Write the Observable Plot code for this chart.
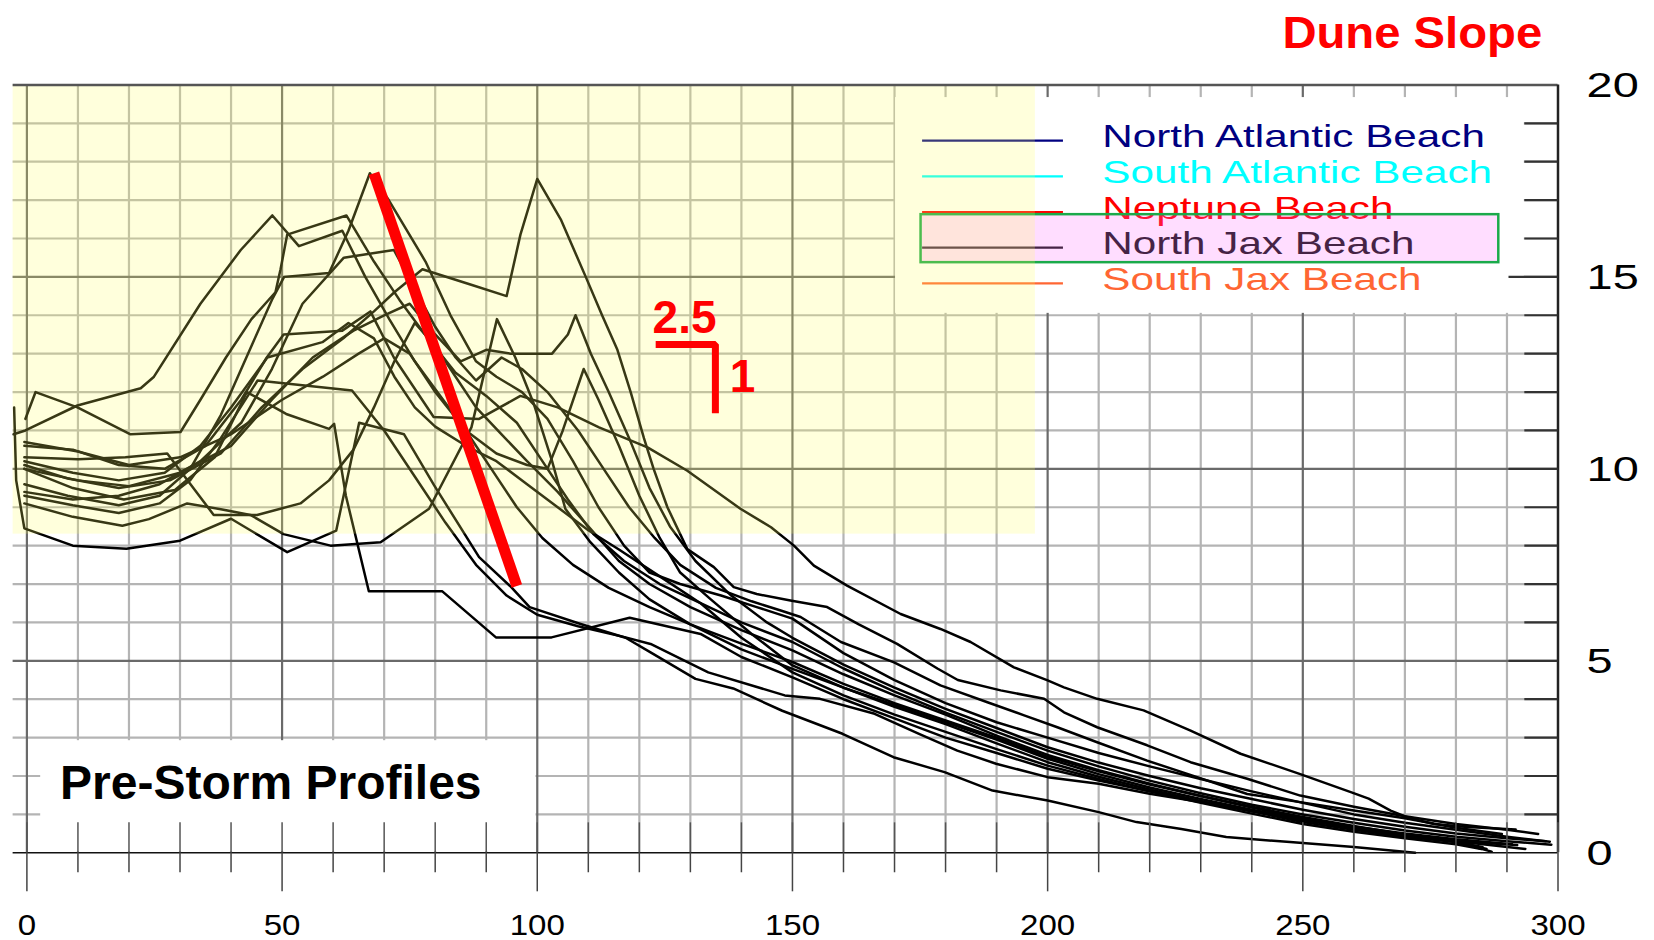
<!DOCTYPE html>
<html><head><meta charset="utf-8">
<script src="https://cdn.jsdelivr.net/npm/d3@7"></script>
<script src="https://cdn.jsdelivr.net/npm/@observablehq/plot@0.6"></script>
<style>html,body{margin:0;padding:0;background:#fff;} #chart{width:1654px;height:940px;overflow:hidden}</style>
</head><body><div id="chart"></div>
<script>
// ---- profile data: [distance, elevation] ----
const profile01 = [[-2.5,11.6],[-2.1,9.7],[-0.5,8.45],[9,8.0],[19.5,7.92],[30,8.13],[40,8.7],[51,7.83],[60.6,8.39],[65.1,11.2],[73.9,10.9],[79.8,9.57],[88.6,7.7],[94.9,6.92],[98.5,6.4],[108.5,5.96],[117.3,5.6],[122.2,5.22],[131,4.53],[138.4,4.28],[148,3.7],[159.8,3.1],[169.8,2.49],[179.8,2.1],[189.2,1.62],[200,1.36],[210,1.06],[217.4,0.8],[226.2,0.62],[235,0.41],[247.5,0.28],[260,0.15],[272,0.0]];
const profile02 = [[-0.5,9.1],[9,8.75],[18.7,8.52],[23.9,8.69],[31.4,9.1],[38,8.95],[43.8,8.8],[50.3,8.3],[59.5,8.0],[69.3,8.09],[78.8,8.96],[87.1,11.08],[92.1,13.9],[95.7,12.9],[99.3,11.7],[102.9,10.2],[105.5,8.96],[110.4,8.09],[116,7.3],[122,6.6],[130,5.95],[140,5.3],[150,4.79],[160,4.3],[170,3.85],[180,3.4],[190,2.95],[200,2.45],[210,2.05],[220,1.7],[230,1.4],[240,1.12],[250,0.88],[260,0.66],[270,0.47],[280,0.3],[292,0.2]];
const profile03 = [[-0.5,10.3],[10,10.25],[19.3,10.3],[27.5,10.4],[36.6,8.8],[45.1,8.8],[53.6,9.1],[59.2,9.7],[64,10.5],[68,11.6],[72,12.8],[76,13.8],[80,13.2],[84,12.4],[88,11.6],[93,10.9],[98,10.2],[104,9.4],[110,8.5],[116,7.6],[122,7.0],[130,6.4],[140,5.8],[150,5.27],[160,4.65],[170,4.1],[180,3.6],[190,3.05],[200,2.55],[210,2.15],[220,1.8],[230,1.48],[240,1.2],[250,0.93],[260,0.7],[270,0.48],[280,0.3],[293.6,0.1]];
const profile04 = [[-0.5,10.0],[9,9.5],[19,9.2],[29,9.45],[36.8,10.3],[43.1,12.0],[50.8,11.43],[59.2,11.04],[60.2,11.17],[62.5,9.3],[67,6.81],[81.4,6.81],[91.9,5.61],[102.8,5.61],[118.1,6.12],[132,5.7],[140,5.1],[150,4.57],[160,4.0],[170,3.5],[180,3.0],[190,2.6],[200,2.19],[210,1.88],[220,1.6],[230,1.33],[240,1.08],[250,0.85],[260,0.65],[270,0.46],[280,0.3],[286,0.1]];
const profile05 = [[-2.6,10.9],[-0.3,11.0],[9.9,11.65],[22.3,12.1],[24.9,12.4],[34,14.3],[41.9,15.7],[48.1,16.6],[53.3,15.8],[61.8,16.2],[66.3,15.0],[71,13.9],[76,12.8],[81,11.9],[86,11.0],[91,10.0],[96,9.0],[101,8.2],[107,7.5],[114,6.9],[122,6.4],[130,5.95],[140,5.45],[150,4.97],[160,4.4],[170,3.9],[180,3.45],[190,3.0],[200,2.5],[210,2.12],[220,1.78],[230,1.48],[240,1.18],[250,0.9],[260,0.68],[270,0.5],[280,0.35],[291,0.22]];
const profile06 = [[-0.3,11.3],[1.7,12.0],[9.9,11.6],[20.3,10.9],[30.1,10.96],[34,11.8],[39,12.9],[44,13.9],[48.7,14.6],[49.7,15.2],[51,16.1],[62.6,16.6],[68,15.4],[73,14.4],[78,13.5],[84,12.5],[90,11.9],[96,11.2],[101,10.2],[106,9.2],[111,8.3],[117,7.6],[124,7.0],[132,6.5],[140,6.0],[150,5.49],[160,4.8],[170,4.2],[180,3.65],[190,3.15],[200,2.66],[210,2.25],[220,1.88],[230,1.55],[240,1.25],[250,1.0],[260,0.78],[270,0.58],[280,0.42],[290,0.3],[298.7,0.21]];
const profile07 = [[-0.5,9.6],[8,9.3],[18,9.05],[26,9.3],[32,10.0],[38,11.4],[44,13.2],[48,14.4],[50.4,15.0],[59.2,15.1],[63,16.2],[67.2,17.7],[70.9,17.0],[78.1,15.4],[83,14.0],[88,12.8],[92,12.4],[97,12.0],[102,11.3],[107,10.2],[112,9.0],[117,8.0],[122,7.3],[128,7.0],[136,6.7],[143,6.4],[150,6.1],[160,5.2],[170,4.5],[180,3.9],[190,3.4],[200,3.0],[210,2.6],[220,2.25],[230,1.92],[240,1.6],[250,1.3],[260,1.0],[270,0.78],[280,0.6],[290,0.42],[298.4,0.29]];
const profile08 = [[-0.5,10.1],[8,9.75],[18,9.5],[28,9.7],[38,10.4],[46,11.6],[54,12.6],[62,13.4],[68,14.1],[72,14.6],[77.5,15.2],[86.9,14.8],[94,14.5],[96.7,16.1],[100,17.55],[104.6,16.5],[109.5,15.0],[112.7,14.0],[115.7,13.1],[118.3,12.0],[120.9,10.8],[122.8,10.0],[125.5,9.0],[129.4,7.91],[134.6,7.44],[138.5,6.92],[143,6.74],[149.6,6.57],[156.8,6.4],[163,5.95],[170.5,5.44],[178.4,4.8],[182.4,4.5],[190.8,4.23],[199.3,4.01],[203.2,3.66],[209.7,3.27],[219.5,2.8],[228,2.36],[239.1,1.93],[249.5,1.49],[260,1.2],[270,0.95],[280,0.75],[290,0.6],[296.1,0.49]];
const profile09 = [[-0.5,10.6],[9,10.5],[18,10.1],[27,10.0],[35,10.6],[42,11.8],[47,12.9],[50.3,13.5],[61.8,13.6],[67.3,14.1],[71.9,12.9],[79.7,11.35],[88.6,11.3],[96.7,11.9],[104,11.6],[112.1,11.08],[121.6,10.56],[129.4,9.95],[139.8,8.96],[145.8,8.48],[150.3,8.0],[154.2,7.48],[160.7,6.96],[171.2,6.22],[179,5.83],[184.9,5.49],[193.4,4.83],[200,4.49],[203.2,4.31],[209.7,4.01],[218.8,3.71],[227.9,3.19],[237.8,2.58],[249.5,2.05],[259.4,1.58],[262.9,1.41],[267.2,1.1],[270.8,0.91],[275.7,0.75],[282.2,0.67],[291.7,0.61]];
const profile10 = [[-0.5,9.4],[9,9.2],[18,9.3],[26,9.6],[34,10.2],[42,11.2],[48,12.6],[54,14.3],[62.1,15.5],[71.9,15.7],[76,14.7],[80,13.7],[84,12.9],[88,12.3],[93,12.9],[97,12.6],[102,12.0],[108,11.0],[113,10.0],[118,9.0],[123,8.2],[128,7.5],[135,6.9],[142,6.55],[147.7,6.31],[151.6,6.14],[159.5,5.49],[169.9,4.96],[179,4.36],[188.2,3.92],[195.4,3.58],[201.9,3.27],[209.7,2.88],[219.5,2.4],[229.3,1.97],[239.1,1.53],[249.5,1.32],[260,1.1],[270,0.9],[280,0.65],[289,0.49]];
const profile11 = [[-0.5,10.0],[10,9.7],[20,9.55],[30,9.9],[40,10.6],[48,11.8],[56,12.9],[64,13.6],[70,14.0],[75,14.3],[80,13.5],[85,12.8],[90,13.1],[94.8,13.0],[100,13.0],[102.9,13.0],[106,13.5],[107.5,14.0],[110.5,13.0],[114,12.0],[118,10.8],[122,9.5],[126,8.5],[131,7.6],[138,6.7],[145,6.0],[150,5.6],[160,4.9],[170,4.3],[180,3.75],[190,3.25],[200,2.75],[210,2.35],[220,2.0],[230,1.68],[240,1.4],[250,1.12],[260,0.88],[270,0.68],[280,0.5],[290,0.38],[297.6,0.3]];
const profile12 = [[-0.5,10.7],[10,10.45],[20,10.1],[30,10.3],[40,10.9],[50,11.8],[58,12.4],[65,13.0],[70,13.4],[75,13.0],[80,12.0],[86,11.0],[92,10.4],[98,10.1],[102,10.0],[105,11.0],[109.1,12.6],[112,11.8],[116,10.6],[120,9.3],[124,8.2],[128,7.3],[134,6.6],[142,5.7],[150,4.88],[160,4.3],[170,3.8],[180,3.35],[190,2.85],[200,2.36],[210,1.98],[220,1.65],[230,1.35],[240,1.08],[250,0.8],[260,0.6],[270,0.42],[280,0.28],[287,0.03]];
const profile13 = [[-0.5,9.3],[9,9.05],[18,8.85],[26,9.1],[32,9.7],[38,10.8],[45.2,12.3],[63.7,12.04],[70,11.0],[76,9.8],[82,8.6],[88,7.5],[94,6.7],[100,6.2],[108,5.9],[117.3,5.61],[122.2,5.44],[133.5,4.7],[148.5,4.1],[155.4,4.01],[166.1,3.62],[174.8,3.1],[182.3,2.66],[189.9,2.32],[200,1.97],[210,1.8],[220,1.54],[230,1.32],[240,1.1],[248.8,0.93],[260,0.62],[272.6,0.45],[285.2,0.15]];
const profile14 = [[-0.5,10.2],[9,9.9],[18,9.7],[27,9.9],[34,10.6],[40,11.6],[47.1,12.9],[57.9,13.3],[63,13.8],[68,13.4],[72,12.4],[76,11.6],[80,11.1],[86,10.6],[92,10.2],[98,9.6],[104,9.0],[110,8.4],[116,7.9],[124,7.2],[132,6.5],[140,5.6],[150,4.7],[160,4.1],[170,3.6],[180,3.15],[190,2.7],[200,2.27],[210,1.92],[220,1.6],[230,1.3],[240,1.02],[250,0.75],[260,0.55],[270,0.38],[280,0.22],[285,0.1]];

const profiles = [profile01, profile02, profile03, profile04, profile05, profile06, profile07,
                  profile08, profile09, profile10, profile11, profile12, profile13, profile14];

// ---- legend ----
const legendNames  = ["North Atlantic Beach", "South Atlantic Beach", "Neptune Beach", "North Jax Beach", "South Jax Beach"];
const legendColors = ["#000080", "#00ffff", "#ff0000", "#111111", "#ff6633"];

// ---- axes ----
const xTickLabels = ["0", "50", "100", "150", "200", "250", "300"];
const yTickLabels = ["0", "5", "10", "15", "20"];
const xMajor = [0, 50, 100, 150, 200, 250];
const xMinor = d3.range(10, 300, 10).filter(v => v % 50 !== 0);
const yMajor = [5, 10, 15];
const yMinor = d3.range(1, 20).filter(v => v % 5 !== 0);
const xAllTicks = d3.range(0, 301, 10);

// ---- annotations (data units) ----
const duneSlope = [[68, 17.7], [96, 6.95]];
const slopeBracket = [[123.2, 13.24], [134.9, 13.24], [134.9, 11.45]];
const yellowZone = [{x1: -2.7, x2: 197.6, y1: 8.3, y2: 20}];
const legendBox = [{x1: 170.2, x2: 293.4, y1: 14.05, y2: 19.67}];
const titleBox = [{x1: 2.7, x2: 99.75, y1: 0.03, y2: 2.92}];
const highlightBox = [{x1: 175.2, x2: 288.4, y1: 15.37, y2: 16.62}];

const rows = profiles.flatMap((p, k) => p.map(([x, y]) => ({profile: k, x, y})));
const legendRows = legendNames.map((name, i) => ({name, color: legendColors[i], i}));

const GRID_MINOR = "#b4b4b4", GRID_MAJOR = "#6a6a6a";

const chart = Plot.plot({
  width: 1654, height: 940,
  marginTop: 84.4, marginBottom: 87.7, marginLeft: 26.4, marginRight: 96.5,
  x: {domain: [0, 300], axis: null},
  y: {domain: [0, 20], axis: null},
  style: {fontFamily: "'Liberation Sans', Arial, sans-serif", background: "white", overflow: "visible"},
  marks: [
    Plot.ruleX(xMinor, {x: d => d, y1: 0, y2: 20, stroke: GRID_MINOR, strokeWidth: 2.2}),
    Plot.ruleY(yMinor, {y: d => d, x1: -2.7, x2: 300, stroke: GRID_MINOR, strokeWidth: 2.2}),
    Plot.ruleX(xMajor, {x: d => d, y1: 0, y2: 20, stroke: GRID_MAJOR, strokeWidth: 2.2}),
    Plot.ruleY(yMajor, {y: d => d, x1: -2.7, x2: 300, stroke: GRID_MAJOR, strokeWidth: 2.2}),
    Plot.rect(legendBox, {x1: "x1", x2: "x2", y1: "y1", y2: "y2", fill: "white"}),
    Plot.rect(titleBox, {x1: "x1", x2: "x2", y1: "y1", y2: "y2", fill: "white"}),
    Plot.line(rows, {x: "x", y: "y", z: "profile", stroke: "#000", strokeWidth: 2.5}),
    // legend
    Plot.ruleY(legendRows, {y: d => 18.55 - d.i * 0.93, x1: 175.5, x2: 203.1, stroke: "color", strokeWidth: 2.2}),
    Plot.text(legendRows, {x: 210.7, y: d => 18.37 - d.i * 0.925, text: "name", fill: "color",
      textAnchor: "start", lineAnchor: "bottom", fontSize: 32, ariaDescription: "legend"}),
    Plot.rect(highlightBox, {x1: "x1", x2: "x2", y1: "y1", y2: "y2", fill: "#ff66ff", fillOpacity: 0.22, stroke: "#1aaa4a", strokeWidth: 2.5}),
    // yellow zone
    Plot.rect(yellowZone, {x1: "x1", x2: "x2", y1: "y1", y2: "y2", fill: "#ffff60", fillOpacity: 0.22}),
    // frame
    Plot.ruleY([20], {y: d => d, x1: -2.7, x2: 300, stroke: "#555", strokeWidth: 2.5}),
    Plot.ruleX([300], {x: d => d, y1: 0, y2: 20, stroke: "#222", strokeWidth: 2.5}),
    Plot.ruleY([0], {y: d => d, x1: -2.7, x2: 300, stroke: "#111", strokeWidth: 1.5}),
    Plot.ruleX(xAllTicks, {x: d => d, y1: 0, y2: 0.78, stroke: "#555", strokeWidth: 1.5}),
    Plot.ruleX(xAllTicks.filter(v => v % 50 !== 0), {x: d => d, y1: 0, y2: -0.52, stroke: "#444", strokeWidth: 1.5}),
    Plot.ruleX(xAllTicks.filter(v => v % 50 === 0), {x: d => d, y1: 0, y2: -1.016, stroke: "#444", strokeWidth: 1.5}),
    Plot.ruleY(yMinor, {y: d => d, x1: 293.5, x2: 300, stroke: "#333", strokeWidth: 2.2}),
    Plot.ruleY(yMajor, {y: d => d, x1: 290.4, x2: 300, stroke: "#333", strokeWidth: 2.2}),
    // dune slope annotation
    Plot.line(duneSlope, {x: d => d[0], y: d => d[1], stroke: "#ff0000", strokeWidth: 11, strokeLinecap: "butt"}),
    Plot.line(slopeBracket, {x: d => d[0], y: d => d[1], stroke: "#ff0000", strokeWidth: 7, strokeLinecap: "butt", strokeLinejoin: "miter"}),
    Plot.text(["2.5"], {x: 122.6, y: 13.55, text: d => d, fill: "#ff0000", fontSize: 46, fontWeight: "bold", textAnchor: "start", lineAnchor: "bottom"}),
    Plot.text(["1"], {x: 137.7, y: 12.01, text: d => d, fill: "#ff0000", fontSize: 46, fontWeight: "bold", textAnchor: "start", lineAnchor: "bottom"}),
    // axis labels
    Plot.text(xTickLabels, {x: d => +d, y: -2.13, text: d => d, fill: "#000", fontSize: 29,
      textAnchor: "middle", lineAnchor: "bottom", ariaDescription: "xlabels"}),
    Plot.text(yTickLabels, {x: 305.6, y: d => +d - 0.326, text: d => d, fill: "#000", fontSize: 35,
      textAnchor: "start", lineAnchor: "bottom", ariaDescription: "ylabels"}),
    // titles
    Plot.text(["Dune Slope"], {x: 246.0, y: 20.97, text: d => d, fill: "#ff0000", fontSize: 45, fontWeight: "bold",
      textAnchor: "start", lineAnchor: "bottom", ariaDescription: "title"}),
    Plot.text(["Pre-Storm Profiles"], {x: 6.5, y: 1.414, text: d => d, fill: "#000", fontSize: 48, fontWeight: "bold",
      textAnchor: "start", lineAnchor: "bottom"})
  ]
});
document.getElementById("chart").append(chart);

// horizontal stretch of some text groups to mimic the wide source font
const stretch = {legend: 1.32, xlabels: 1.14, ylabels: 1.34, title: 1.05};
for (const [key, s] of Object.entries(stretch)) {
  chart.querySelectorAll(`g[aria-description="${key}"] text`).forEach(t => {
    let tr = t.getAttribute("transform");
    if (!tr) {
      const x = t.getAttribute("x") || 0, y = t.getAttribute("y") || 0;
      t.removeAttribute("x");
      tr = `translate(${x},${y})`;
    }
    t.setAttribute("transform", `${tr} scale(${s},1)`);
  });
}
</script>
</body></html>
